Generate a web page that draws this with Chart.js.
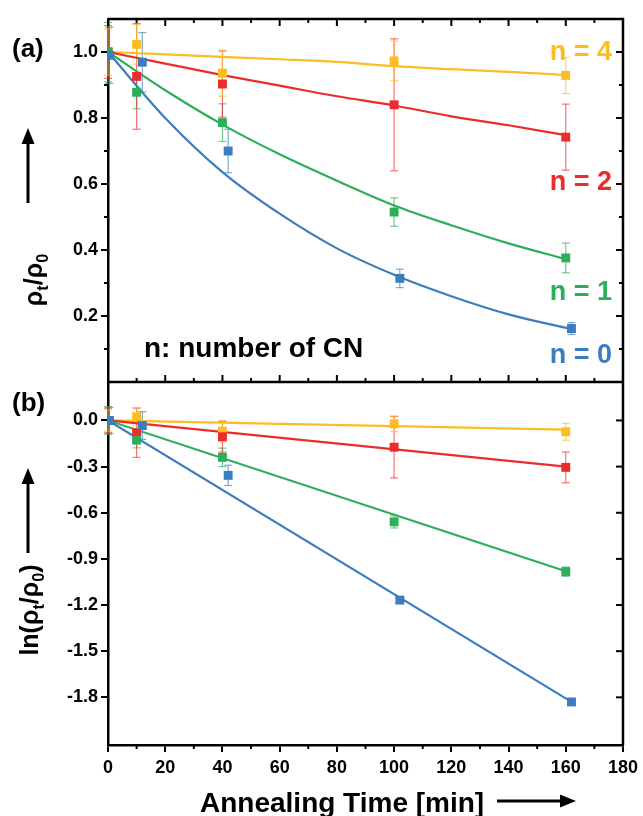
<!DOCTYPE html>
<html>
<head>
<meta charset="utf-8">
<script src="https://cdn.jsdelivr.net/npm/chart.js@4.4.1/dist/chart.umd.min.js"></script>
<style>
  html, body { margin: 0; padding: 0; background: #fff; }
  #wrap { width: 643px; height: 816px; position: relative; }
</style>
</head>
<body>
<div id="wrap"><canvas id="chart"></canvas></div>
<script>
// annealing times [min]; the n = 0 series is measured slightly later
const timesN = [0, 10, 40, 100, 160];
const timesN0 = [0.5, 12, 42, 102, 162];

// panel (a): rho_t / rho_0
const ratioN0 = [0.99, 0.969, 0.70, 0.314, 0.162];
const ratioN1 = [1.0, 0.878, 0.786, 0.515, 0.376];
const ratioN2 = [1.0, 0.926, 0.903, 0.84, 0.742];
const ratioN4 = [1.0, 1.023, 0.936, 0.973, 0.929];
const ratioErrN0 = [0.085, 0.09, 0.066, 0.028, 0.018];
const ratioErrN1 = [0.09, 0.05, 0.057, 0.043, 0.045];
const ratioErrN2 = [0.08, 0.16, 0.1, 0.2, 0.1];
const ratioErrN4 = [0.07, 0.06, 0.07, 0.06, 0.055];

// panel (a) fit curves
const fitTimesA = [0, 20, 40, 60, 80, 100, 120, 140, 160];
const fitTimesA0 = [0, 20, 40, 60, 80, 100, 120, 140, 162];
const fitRatioN0 = [1.0, 0.80, 0.636, 0.51, 0.405, 0.325, 0.26, 0.205, 0.16];
const fitRatioN1 = [1.0, 0.884, 0.78, 0.69, 0.61, 0.535, 0.475, 0.42, 0.372];
const fitRatioN2 = [1.0, 0.965, 0.93, 0.898, 0.866, 0.838, 0.805, 0.778, 0.748];
const fitRatioN4 = [1.0, 0.993, 0.985, 0.978, 0.97, 0.957, 0.948, 0.94, 0.93];

// panel (b): ln(rho_t / rho_0)
const lnN0 = [0, -0.033, -0.357, -1.168, -1.83];
const lnN1 = [0, -0.128, -0.24, -0.659, -0.983];
const lnN2 = [0, -0.08, -0.106, -0.174, -0.305];
const lnN4 = [0, 0.024, -0.07, -0.022, -0.074];
const lnErrN0 = [0.085, 0.09, 0.066, 0.02, 0.01];
const lnErrN1 = [0.09, 0.05, 0.06, 0.04, 0.03];
const lnErrN2 = [0.08, 0.16, 0.1, 0.2, 0.1];
const lnErrN4 = [0.07, 0.06, 0.07, 0.05, 0.055];

// panel (b) linear fits (start, end)
const fitTimesB = [0, 160];
const fitTimesB0 = [0, 162];
const fitLnN0 = [0, -1.83];
const fitLnN1 = [0, -0.98];
const fitLnN2 = [0, -0.30];
const fitLnN4 = [0, -0.06];

// ticks
const xTicks = [0, 20, 40, 60, 80, 100, 120, 140, 160, 180];
const xMinorTicks = [10, 30, 50, 70, 90, 110, 130, 150, 170];
const yTicksA = [0.2, 0.4, 0.6, 0.8, 1.0];
const yMinorTicksA = [0.1, 0.3, 0.5, 0.7, 0.9];
const yTicksB = [-1.8, -1.5, -1.2, -0.9, -0.6, -0.3, 0.0];

const BLUE = '#3b7dbf';
const GREEN = '#2cae5a';
const RED = '#ec2b2b';
const YELLOW = '#fbbd22';
const FONT = "'Liberation Sans', Arial, sans-serif";

const pts = (xs, ys) => xs.map((x, i) => ({ x: x, y: ys[i] }));

const markerSet = (times, values, color, axis) => ({
    data: pts(times, values),
    yAxisID: axis,
    showLine: false,
    pointStyle: 'rect',
    pointRadius: 6.3,
    pointBorderWidth: 0,
    backgroundColor: color,
    borderColor: color,
    order: 0
});

const fitSet = (times, values, color, axis) => ({
    data: pts(times, values),
    yAxisID: axis,
    showLine: true,
    pointRadius: 0,
    borderColor: color,
    borderWidth: 2.2,
    cubicInterpolationMode: 'monotone',
    fill: false,
    order: 1
});

const errorSets = [
    { axis: 'yA', times: timesN0, values: ratioN0, errors: ratioErrN0, color: BLUE },
    { axis: 'yA', times: timesN, values: ratioN1, errors: ratioErrN1, color: GREEN },
    { axis: 'yA', times: timesN, values: ratioN2, errors: ratioErrN2, color: RED },
    { axis: 'yA', times: timesN, values: ratioN4, errors: ratioErrN4, color: YELLOW },
    { axis: 'yB', times: timesN0, values: lnN0, errors: lnErrN0, color: BLUE },
    { axis: 'yB', times: timesN, values: lnN1, errors: lnErrN1, color: GREEN },
    { axis: 'yB', times: timesN, values: lnN2, errors: lnErrN2, color: RED },
    { axis: 'yB', times: timesN, values: lnN4, errors: lnErrN4, color: YELLOW }
];

function line(ctx, x1, y1, x2, y2) {
    ctx.beginPath();
    ctx.moveTo(x1, y1);
    ctx.lineTo(x2, y2);
    ctx.stroke();
}

function arrow(ctx, x1, y1, x2, y2) {
    const ang = Math.atan2(y2 - y1, x2 - x1);
    const hl = 16, hw = 6.5;
    const bx = x2 - hl * Math.cos(ang), by = y2 - hl * Math.sin(ang);
    ctx.lineWidth = 3;
    line(ctx, x1, y1, bx, by);
    ctx.beginPath();
    ctx.moveTo(x2, y2);
    ctx.lineTo(bx - hw * Math.sin(ang), by + hw * Math.cos(ang));
    ctx.lineTo(bx + hw * Math.sin(ang), by - hw * Math.cos(ang));
    ctx.closePath();
    ctx.fill();
}

// rotated axis title with subscripts; parts = [[text, isSub], ...]
function subTitle(ctx, parts, cx, cy, size) {
    ctx.save();
    ctx.translate(cx, cy);
    ctx.rotate(-Math.PI / 2);
    const subSize = size * 0.65;
    let total = 0;
    parts.forEach(([t, sub]) => {
        ctx.font = `bold ${sub ? subSize : size}px ${FONT}`;
        total += ctx.measureText(t).width;
    });
    let xx = -total / 2;
    const base = size * 0.36;
    ctx.textBaseline = 'alphabetic';
    ctx.textAlign = 'left';
    parts.forEach(([t, sub]) => {
        ctx.font = `bold ${sub ? subSize : size}px ${FONT}`;
        ctx.fillText(t, xx, sub ? base + size * 0.22 : base);
        xx += ctx.measureText(t).width;
    });
    ctx.restore();
}

const decorPlugin = {
    id: 'decor',
    beforeDatasetsDraw(chart) {
        const ctx = chart.ctx;
        const x = chart.scales.x;
        ctx.save();
        ctx.lineWidth = 1.2;
        ctx.globalAlpha = 0.65;
        errorSets.forEach(s => {
            const ys = chart.scales[s.axis];
            ctx.strokeStyle = s.color;
            s.times.forEach((t, i) => {
                const px = x.getPixelForValue(t);
                const top = ys.getPixelForValue(s.values[i] + s.errors[i]);
                const bot = ys.getPixelForValue(s.values[i] - s.errors[i]);
                line(ctx, px, top, px, bot);
                line(ctx, px - 4, top, px + 4, top);
                line(ctx, px - 4, bot, px + 4, bot);
            });
        });
        ctx.restore();
    },
    afterDraw(chart) {
        const ctx = chart.ctx;
        const { left, right, top, bottom } = chart.chartArea;
        const x = chart.scales.x, yA = chart.scales.yA, yB = chart.scales.yB;
        const mid = yA.bottom;
        ctx.save();
        ctx.strokeStyle = '#000';
        ctx.fillStyle = '#000';
        ctx.lineWidth = 2.5;
        ctx.beginPath();
        ctx.moveTo(left, top);
        ctx.lineTo(right, top);
        ctx.lineTo(right, bottom);
        ctx.moveTo(left, mid);
        ctx.lineTo(right, mid);
        ctx.stroke();

        ctx.lineWidth = 2;
        xTicks.forEach(v => {
            const px = x.getPixelForValue(v);
            line(ctx, px, top, px, top + 7);
            line(ctx, px, mid, px, mid - 7);
        });
        xMinorTicks.forEach(v => {
            const px = x.getPixelForValue(v);
            line(ctx, px, top, px, top + 4);
            line(ctx, px, mid, px, mid - 4);
            line(ctx, px, bottom, px, bottom + 4);
        });
        yTicksA.forEach(v => {
            const py = yA.getPixelForValue(v);
            line(ctx, right, py, right - 7, py);
        });
        yMinorTicksA.forEach(v => {
            const py = yA.getPixelForValue(v);
            line(ctx, right, py, right - 4, py);
            line(ctx, left, py, left - 4, py);
        });
        yTicksB.forEach(v => {
            const py = yB.getPixelForValue(v);
            line(ctx, right, py, right - 7, py);
        });

        // panel letters and series labels
        ctx.textBaseline = 'alphabetic';
        ctx.textAlign = 'left';
        ctx.font = `bold 26px ${FONT}`;
        ctx.fillText('(a)', 12, 57);
        ctx.fillText('(b)', 12, 411);
        ctx.font = `bold 28px ${FONT}`;
        ctx.fillText('n: number of CN', 144, 357);

        ctx.font = `bold 27px ${FONT}`;
        ctx.textAlign = 'right';
        ctx.fillStyle = YELLOW;
        ctx.fillText('n = 4', 612, 60);
        ctx.fillStyle = RED;
        ctx.fillText('n = 2', 612, 190);
        ctx.fillStyle = GREEN;
        ctx.fillText('n = 1', 612, 300);
        ctx.fillStyle = BLUE;
        ctx.fillText('n = 0', 612, 363);

        // axis titles with arrows
        ctx.fillStyle = '#000';
        ctx.strokeStyle = '#000';
        ctx.textAlign = 'left';
        ctx.font = `bold 28px ${FONT}`;
        ctx.fillText('Annealing Time [min]', 200, 812);
        arrow(ctx, 497, 801, 576, 801);

        subTitle(ctx, [['ρ', false], ['t', true], ['/ρ', false], ['0', true]], 33, 280, 25);
        arrow(ctx, 28, 203, 28, 128);
        subTitle(ctx, [['ln(ρ', false], ['t', true], ['/ρ', false], ['0', true], [')', false]], 29, 610, 25);
        arrow(ctx, 28, 553, 28, 468);
        ctx.restore();
    }
};

const tickFont = { family: FONT, size: 18, weight: 'bold' };

new Chart(document.getElementById('chart'), {
    type: 'scatter',
    data: {
        datasets: [
            markerSet(timesN0, ratioN0, BLUE, 'yA'),
            markerSet(timesN, ratioN1, GREEN, 'yA'),
            markerSet(timesN, ratioN2, RED, 'yA'),
            markerSet(timesN, ratioN4, YELLOW, 'yA'),
            markerSet(timesN0, lnN0, BLUE, 'yB'),
            markerSet(timesN, lnN1, GREEN, 'yB'),
            markerSet(timesN, lnN2, RED, 'yB'),
            markerSet(timesN, lnN4, YELLOW, 'yB'),
            fitSet(fitTimesA0, fitRatioN0, BLUE, 'yA'),
            fitSet(fitTimesA, fitRatioN1, GREEN, 'yA'),
            fitSet(fitTimesA, fitRatioN2, RED, 'yA'),
            fitSet(fitTimesA, fitRatioN4, YELLOW, 'yA'),
            fitSet(fitTimesB0, fitLnN0, BLUE, 'yB'),
            fitSet(fitTimesB, fitLnN1, GREEN, 'yB'),
            fitSet(fitTimesB, fitLnN2, RED, 'yB'),
            fitSet(fitTimesB, fitLnN4, YELLOW, 'yB')
        ]
    },
    options: {
        responsive: true,
        maintainAspectRatio: false,
        animation: false,
        layout: { padding: { top: 19, right: 18, left: 0, bottom: 0 } },
        plugins: { legend: { display: false }, tooltip: { enabled: false } },
        scales: {
            x: {
                type: 'linear',
                min: 0,
                max: 180,
                afterBuildTicks: s => { s.ticks = xTicks.map(v => ({ value: v })); },
                afterFit: s => { s.height = 71; },
                border: { color: '#000', width: 2.5 },
                grid: { drawOnChartArea: false, color: '#000', lineWidth: 2, tickLength: 7 },
                ticks: { font: tickFont, color: '#000', padding: 5, maxRotation: 0, autoSkip: false }
            },
            yB: {
                type: 'linear',
                position: 'left',
                stack: 'panels',
                stackWeight: 1,
                min: -2.11,
                max: 0.25,
                afterBuildTicks: s => { s.ticks = yTicksB.map(v => ({ value: v })); },
                afterFit: s => { s.width = 108; },
                border: { color: '#000', width: 2.5 },
                grid: { drawOnChartArea: false, color: '#000', lineWidth: 2, tickLength: 7 },
                ticks: { font: tickFont, color: '#000', padding: 3, callback: v => v.toFixed(1) }
            },
            yA: {
                type: 'linear',
                position: 'left',
                stack: 'panels',
                stackWeight: 1,
                min: 0,
                max: 1.1,
                afterBuildTicks: s => { s.ticks = yTicksA.map(v => ({ value: v })); },
                afterFit: s => { s.width = 108; },
                border: { color: '#000', width: 2.5 },
                grid: { drawOnChartArea: false, color: '#000', lineWidth: 2, tickLength: 7 },
                ticks: { font: tickFont, color: '#000', padding: 3, callback: v => v.toFixed(1) }
            }
        }
    },
    plugins: [decorPlugin]
});
</script>
</body>
</html>
